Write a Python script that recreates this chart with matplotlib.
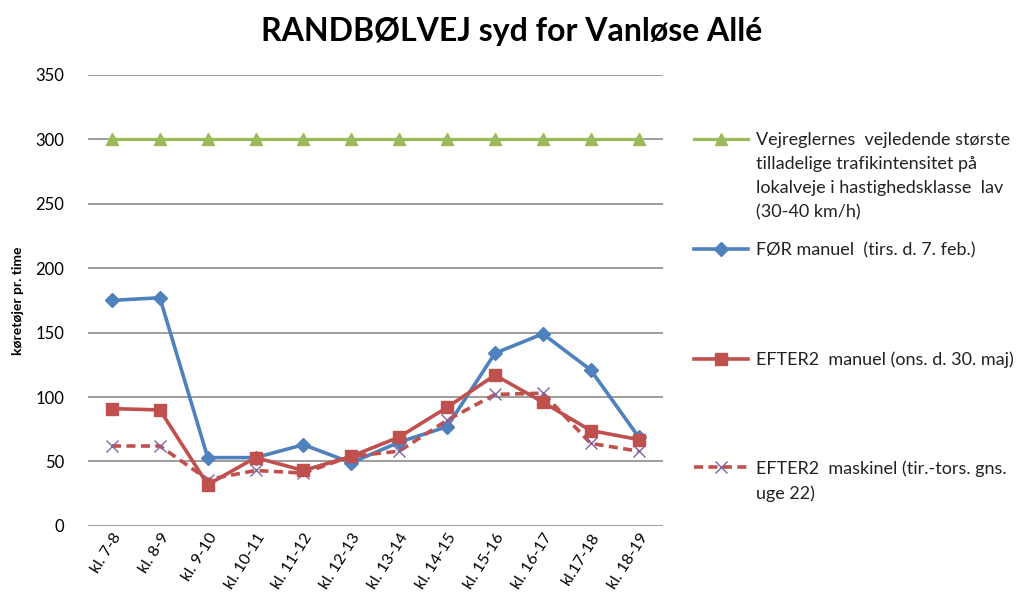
import numpy as np
import matplotlib
matplotlib.use('Agg')
import matplotlib.pyplot as plt
from matplotlib.lines import Line2D

plt.rcParams['font.family'] = ['Lato', 'DejaVu Sans']

hours = ['kl. 7-8', 'kl. 8-9', 'kl. 9-10', 'kl. 10-11', 'kl. 11-12', 'kl. 12-13',
         'kl. 13-14', 'kl. 14-15', 'kl. 15-16', 'kl. 16-17', 'kl.17-18', 'kl. 18-19']
limit = [300, 300, 300, 300, 300, 300, 300, 300, 300, 300, 300, 300]
foer = [175, 177, 53, 53, 63, 49, 65, 77, 134, 149, 121, 69]
efter_manuel = [91, 90, 32, 53, 43, 54, 69, 92, 117, 96, 74, 67]
efter_maskinel = [62, 62, 36, 43, 41, 54, 58, 82, 102, 103, 64, 58]

labels = [['Vejreglernes  vejledende største', 'tilladelige trafikintensitet på',
           'lokalveje i hastighedsklasse  lav', '(30-40 km/h)'],
          ['FØR manuel  (tirs. d. 7. feb.)'],
          ['EFTER2  manuel (ons. d. 30. maj)'],
          ['EFTER2  maskinel (tir.-tors. gns.', 'uge 22)']]

green, blue, red, purple = '#9BBB59', '#4F81BD', '#C0504D', '#8064A2'

fig = plt.figure(figsize=(10.24, 6.08), dpi=100)
ax = fig.add_axes([0.086, 0.135, 0.561, 0.742])
x = np.arange(len(hours))

ax.plot(x, limit, color=green, lw=2.3, marker='^', ms=9, zorder=3)
ax.plot(x, foer, color=blue, lw=2.6, marker='D', ms=7, zorder=3)
ax.plot(x, efter_manuel, color=red, lw=2.6, marker='s', ms=9, zorder=4)
ax.plot(x, efter_maskinel, color=red, lw=2.6, ls=(0, (2.5, 1.5)), marker='x', ms=9,
        mec=purple, mew=1.0, zorder=3)

ax.set_xlim(-0.5, 11.5)
ax.set_ylim(0, 350)
ax.set_yticks(range(0, 351, 50))
ax.yaxis.grid(True, color='#8c8c8c', lw=1.2)
ax.set_axisbelow(True)
for s in ax.spines.values():
    s.set_visible(False)
ax.tick_params(length=0, labelsize=12)
ax.tick_params(axis='y', pad=17)
ax.set_xticks(x)
ax.set_xticklabels(hours, rotation=58, ha='right', rotation_mode='anchor', fontsize=11.5)
ax.set_ylabel('køretøjer pr. time', fontsize=10, fontweight='bold', labelpad=8)

fig.suptitle('RANDBØLVEJ syd for Vanløse Allé', fontsize=23, fontweight='bold', y=0.972)

handles = [
    Line2D([], [], color=green, lw=2.3, marker='^', ms=9),
    Line2D([], [], color=blue, lw=2.6, marker='D', ms=7),
    Line2D([], [], color=red, lw=2.6, marker='s', ms=9),
    Line2D([], [], color=red, lw=2.6, ls=(0, (2.5, 1.5)), marker='x', ms=9, mec=purple),
]
blank = Line2D([], [], color='none')
tops = [0.783, 0.602, 0.422, 0.243]
for h, lab, t in zip(handles, labels, tops):
    hs = [h] + [blank] * (len(lab) - 1)
    fig.legend(hs, lab, loc='upper left', bbox_to_anchor=(0.678, t), frameon=False,
               fontsize=13, handlelength=3.0, handletextpad=0.4, borderaxespad=0,
               borderpad=0, labelspacing=0.45, labelcolor='#222222')

fig.savefig('out.png', dpi=100)
